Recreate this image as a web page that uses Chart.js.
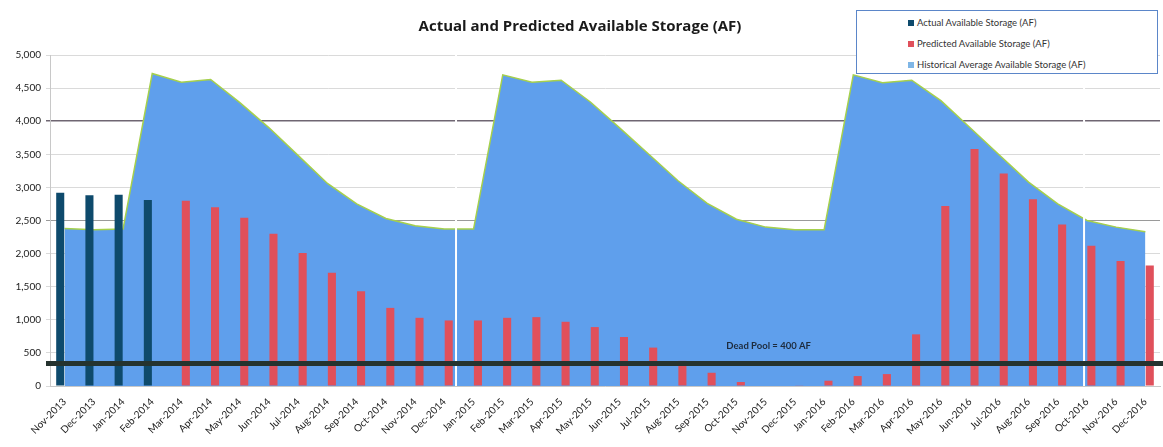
<!DOCTYPE html>
<html>
  <head>
    <title>Actual and Predicted Available Storage (AF)</title>
    <script src="https://cdn.jsdelivr.net/npm/chart.js"></script>
    <style>
      body { margin: 0; background: #fff; }
      #wrap { position: relative; width: 1163px; height: 447px; }
      #legend {
        position: absolute; left: 856px; top: 10px; width: 302px; height: 64px;
        border: 1px solid #5b86c9; background: #fff; box-sizing: border-box;
        font: 9.5px Lato, sans-serif; color: #333; padding: 6px 0 0 51px;
      }
      #legend div { height: 21px; line-height: 12px; white-space: nowrap; }
      #legend span { display: inline-block; width: 6px; height: 6px; margin-right: 3px; }
    </style>
  </head>
  <body>
    <div id="wrap">
      <canvas id="storage-chart" width="1163" height="447"></canvas>
      <div id="legend"></div>
    </div>

    <script>
      const months = [
        "Nov-2013", "Dec-2013",
        "Jan-2014", "Feb-2014", "Mar-2014", "Apr-2014", "May-2014", "Jun-2014",
        "Jul-2014", "Aug-2014", "Sep-2014", "Oct-2014", "Nov-2014", "Dec-2014",
        "Jan-2015", "Feb-2015", "Mar-2015", "Apr-2015", "May-2015", "Jun-2015",
        "Jul-2015", "Aug-2015", "Sep-2015", "Oct-2015", "Nov-2015", "Dec-2015",
        "Jan-2016", "Feb-2016", "Mar-2016", "Apr-2016", "May-2016", "Jun-2016",
        "Jul-2016", "Aug-2016", "Sep-2016", "Oct-2016", "Nov-2016", "Dec-2016",
      ];

      const actual = [2920, 2880, 2890, 2810,
        null, null, null, null, null, null, null, null, null, null,
        null, null, null, null, null, null, null, null, null, null, null, null,
        null, null, null, null, null, null, null, null, null, null, null, null];

      const predicted = [null, null, null, null,
        2800, 2700, 2540, 2300, 2010, 1710, 1430, 1180, 1030, 990,
        990, 1030, 1040, 970, 890, 740, 580, 380, 200, 60, 0, 10,
        80, 150, 180, 780, 2720, 3580, 3210, 2820, 2440, 2120, 1890, 1820];

      const historical = [2380, 2360,
        2370, 4720, 4590, 4630, 4280, 3900, 3480, 3060, 2750, 2530, 2420, 2370,
        2370, 4700, 4590, 4620, 4290, 3900, 3500, 3100, 2760, 2520, 2400, 2360,
        2360, 4700, 4580, 4620, 4310, 3900, 3490, 3080, 2750, 2500, 2400, 2330];

      const yTicks = [0, 500, 1000, 1500, 2000, 2500, 3000, 3500, 4000, 4500, 5000];

      // hand drawn marker on the original
      const deadPool = 340;
      const deadPoolLabel = "Dead Pool = 400 AF";

      const deadPoolPlugin = {
        id: "deadPool",
        afterDatasetsDraw(chart) {
          const { ctx, chartArea, scales } = chart;
          ctx.save();
          // white seams where the scanned picture was pasted together
          ctx.strokeStyle = "#ffffff";
          ctx.lineWidth = 2;
          [13.4, 34.9].forEach((i) => {
            const x = scales.x.getPixelForValue(i);
            ctx.beginPath();
            ctx.moveTo(x, chartArea.top);
            ctx.lineTo(x, chartArea.bottom);
            ctx.stroke();
          });
          const y = scales.y.getPixelForValue(deadPool);
          ctx.strokeStyle = "#25332f";
          ctx.lineWidth = 5;
          ctx.beginPath();
          ctx.moveTo(chartArea.left - 4, y);
          ctx.lineTo(chart.width, y);
          ctx.stroke();
          ctx.fillStyle = "#1d2b3d";
          ctx.font = "bold 9.5px Lato, sans-serif";
          ctx.textAlign = "center";
          ctx.textBaseline = "middle";
          ctx.fillText(deadPoolLabel, scales.x.getPixelForValue(24) + 3, y - 18);
          ctx.restore();
        },
      };

      const ctx = document.getElementById("storage-chart").getContext("2d");
      const chart = new Chart(ctx, {
        type: "bar",
        data: {
          labels: months,
          datasets: [
            {
              label: "Actual Available Storage (AF)",
              data: actual,
              backgroundColor: "#0e4a6c",
              categoryPercentage: 0.6,
              barPercentage: 0.92,
              order: 1,
            },
            {
              label: "Predicted Available Storage (AF)",
              data: predicted,
              backgroundColor: "#e0505b",
              categoryPercentage: 0.6,
              barPercentage: 0.92,
              order: 1,
            },
            {
              type: "line",
              label: "Historical Average Available Storage (AF)",
              data: historical,
              fill: "origin",
              backgroundColor: "#5f9fec",
              borderColor: "#a6d04c",
              borderWidth: 1.5,
              pointRadius: 0,
              tension: 0,
              order: 2,
            },
          ],
        },
        options: {
          responsive: false,
          animation: false,
          layout: { padding: { left: 0, right: 3, top: 0, bottom: 0 } },
          plugins: {
            legend: { display: false },
            tooltip: { enabled: false },
            title: {
              display: true,
              text: "Actual and Predicted Available Storage (AF)",
              font: { family: "Open Sans", size: 15, weight: "bold" },
              color: "#1a1a1a",
              padding: { top: 18, bottom: 19 },
            },
          },
          scales: {
            x: {
              grid: { display: false },
              border: { color: "#c8c8c8" },
              ticks: {
                autoSkip: false,
                minRotation: 45,
                maxRotation: 45,
                padding: 2,
                color: "#222",
                font: { family: "Lato", size: 10 },
              },
              afterFit: (s) => { s.height = 61; },
            },
            y: {
              min: 0,
              max: 5000,
              afterBuildTicks: (s) => { s.ticks = yTicks.map((v) => ({ value: v })); },
              ticks: {
                padding: 5,
                color: "#222",
                font: { family: "Lato", size: 10 },
                callback: (v) => v.toLocaleString("en-US"),
              },
              grid: {
                tickLength: 4,
                color: (c) => c.tick && c.tick.value === 4000 ? "#6f6672"
                  : c.tick && c.tick.value === 2500 ? "#9a9a9a" : "#dadada",
                lineWidth: (c) => c.tick && c.tick.value === 4000 ? 1.5 : 1,
              },
              border: { color: "#c8c8c8" },
              afterFit: (s) => { s.width = 50; },
            },
          },
        },
        plugins: [deadPoolPlugin],
      });

      // legend box in the top right corner, built from the datasets
      const legend = document.getElementById("legend");
      chart.data.datasets.forEach((ds) => {
        const row = document.createElement("div");
        const sw = document.createElement("span");
        sw.style.background = ds.type === "line" ? "#7fb6e6" : ds.backgroundColor;
        row.appendChild(sw);
        row.appendChild(document.createTextNode(ds.label));
        legend.appendChild(row);
      });
    </script>
  </body>
</html>
